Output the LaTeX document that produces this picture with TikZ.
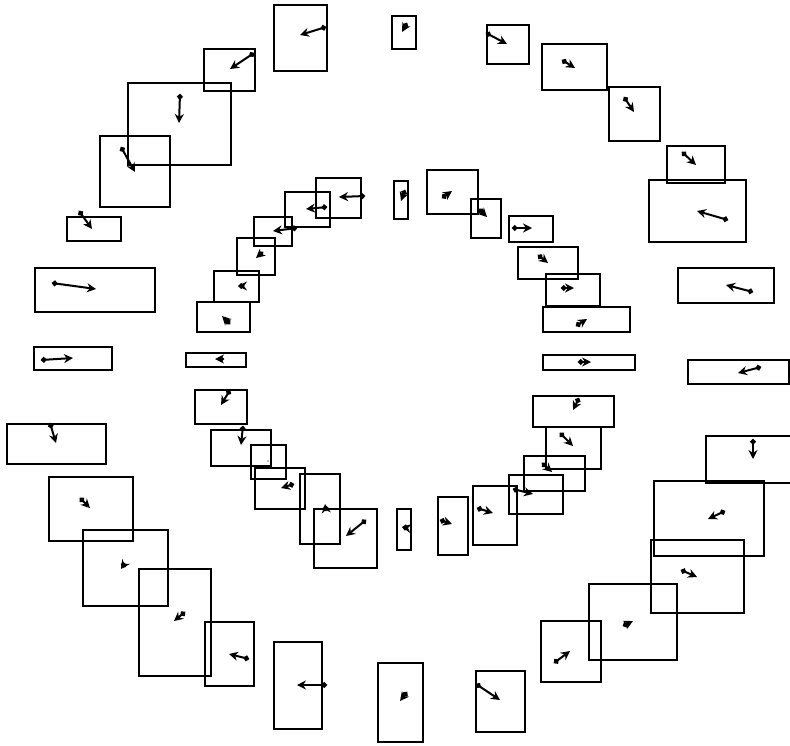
\documentclass[tikz,border=0pt]{standalone}
\usetikzlibrary{arrows.meta}
\tikzset{
  boxline/.style={draw=black, line width=2.1pt},
  vecline/.style={draw=black, line width=2pt, {Circle[length=5.5pt]}-{Stealth[length=9pt,width=9pt]}},
  tinydot/.style={fill=black}
}
\newcommand{\rbx}[4]{\draw[boxline] (#1,#2) rectangle (#3,#4);}
\newcommand{\mvec}[4]{\draw[vecline] (#1,#2) -- (#3,#4);}
\begin{document}
\begin{tikzpicture}[x=1pt,y=-1pt]
\path[use as bounding box, fill=white] (0,0) rectangle (790,745);
% ---------- outer ring ----------
\rbx{274}{5}{327}{71}     \mvec{326}{27}{300}{35}
\rbx{204}{49}{255}{91}    \mvec{254}{53}{230}{69}
\rbx{128}{83}{231}{165}   \mvec{180}{94}{179}{123}
\rbx{100}{136}{170}{207}  \mvec{121}{147}{135}{172}
\rbx{67}{217}{121}{241}   \mvec{79}{211}{92}{229}
\rbx{35}{268}{155}{312}   \mvec{52}{283}{96}{289}
\rbx{34}{347}{112}{370}   \mvec{41}{360}{73}{358}
\rbx{7}{424}{106}{464}    \mvec{50}{423}{56}{443}
\rbx{49}{477}{133}{541}   \mvec{80}{498}{90}{508}
\rbx{83}{530}{168}{606}   \mvec{125}{563}{121}{569}
\rbx{139}{569}{211}{676}  \mvec{185}{612}{174}{621}
\rbx{205}{622}{254}{686}  \mvec{249}{659}{229}{654}
\rbx{274}{642}{322}{729}  \mvec{327}{685}{297}{685}
\rbx{378}{663}{423}{742}  \mvec{407}{692}{400}{701}
\rbx{476}{671}{525}{732}  \mvec{476}{684}{500}{700}
\rbx{541}{621}{601}{682}  \mvec{554}{663}{570}{651}
\rbx{589}{584}{677}{660}  \mvec{623}{626}{633}{621}
\rbx{651}{540}{744}{613}  \mvec{681}{570}{697}{577}
\rbx{654}{481}{764}{556}  \mvec{725}{511}{708}{519}
\draw[boxline] (792,436) -- (706,436) -- (706,483) -- (792,483);
\mvec{753}{439}{753}{459}
\rbx{688}{360}{789}{384}  \mvec{761}{367}{738}{373}
\rbx{678}{268}{774}{303}  \mvec{753}{292}{726}{285}
\rbx{649}{180}{746}{242}  \mvec{728}{220}{697}{211}
\rbx{667}{146}{725}{183}  \mvec{682}{152}{696}{165}
\rbx{609}{87}{660}{141}   \mvec{624}{97}{634}{112}
\rbx{542}{44}{607}{90}    \mvec{562}{60}{575}{68}
\rbx{487}{25}{529}{64}    \mvec{486}{33}{507}{44}
\rbx{392}{16}{416}{49}    \mvec{407}{23}{402}{32}
% ---------- inner ring ----------
\rbx{394}{181}{408}{219}  \mvec{405}{190}{401}{201}
\rbx{427}{170}{478}{214}  \mvec{442}{198}{452}{191}
\rbx{471}{199}{501}{238}  \mvec{479}{209}{487}{217}
\rbx{509}{216}{553}{242}  \mvec{512}{228}{532}{228}
\rbx{518}{247}{578}{279}  \mvec{538}{255}{548}{263}
\rbx{546}{274}{600}{306}  \mvec{561}{288}{574}{288}
\rbx{543}{307}{630}{332}  \mvec{576}{326}{587}{319}
\rbx{543}{355}{635}{370}  \mvec{578}{362}{591}{362}
\rbx{533}{396}{614}{427}  \mvec{579}{398}{573}{410}
\rbx{546}{427}{601}{469}  \mvec{560}{433}{573}{446}
\rbx{524}{456}{585}{491}  \mvec{542}{463}{552}{472}
\rbx{509}{475}{563}{514}  \mvec{513}{489}{533}{494}
\rbx{473}{486}{517}{545}  \mvec{477}{508}{493}{513}
\rbx{438}{497}{468}{555}  \mvec{440}{520}{452}{524}
\rbx{397}{509}{411}{550}  \mvec{408}{528}{402}{527}
\rbx{314}{509}{377}{568}  \mvec{366}{520}{346}{536}
\rbx{300}{474}{340}{544}  \mvec{326}{511}{325}{504}
\rbx{255}{468}{305}{509}  \mvec{294}{484}{281}{488}
\rbx{251}{445}{286}{479}  \fill[tinydot] (268,461) circle (0.7pt);
\rbx{211}{430}{271}{466}  \mvec{243}{426}{241}{445}
\rbx{195}{390}{247}{424}  \mvec{230}{390}{221}{405}
\rbx{186}{353}{246}{367}  \mvec{224}{359}{215}{359}
\rbx{197}{302}{250}{332}  \mvec{230}{324}{222}{316}
\rbx{214}{271}{259}{302}  \mvec{244}{286}{238}{286}
\rbx{237}{238}{275}{275}  \mvec{263}{252}{256}{258}
\rbx{254}{217}{292}{246}  \mvec{297}{228}{273}{231}
\rbx{285}{192}{330}{227}  \mvec{327}{207}{306}{209}
\rbx{316}{178}{361}{218}  \mvec{365}{196}{339}{197}
\end{tikzpicture}
\end{document}
